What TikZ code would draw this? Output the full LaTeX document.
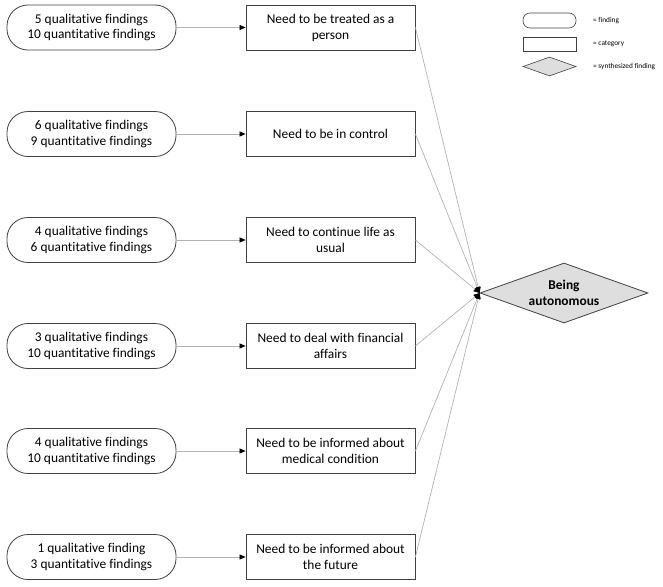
\documentclass[tikz,border=0pt]{standalone}
\usepackage{fontspec}
\setmainfont{Carlito}[Ligatures=NoCommon]
\usetikzlibrary{arrows.meta,shapes.geometric,positioning}
\newcommand{\linecolor}{black!30}
\newcommand{\edgecolor}{black!75}
\newcommand{\boxwidth}{169pt}
\newcommand{\boxheight}{45pt}

\begin{document}
\begin{tikzpicture}[x=1pt,y=-1pt,
  finding/.style={draw=\edgecolor, line width=0.8pt, rounded corners=21pt, minimum width=\boxwidth, minimum height=\boxheight, inner sep=0pt, align=center, font=\fontsize{13.4}{16}\selectfont},
  category/.style={draw=\edgecolor, line width=0.8pt, minimum width=\boxwidth, minimum height=\boxheight, inner sep=0pt, align=center, font=\fontsize{13.4}{16}\selectfont},
  synth/.style={diamond, draw=\edgecolor, line width=0.8pt, fill=black!13, minimum width=168pt, minimum height=60pt, inner sep=0pt, aspect=2.8, align=center, font=\fontsize{13.4}{16}\selectfont\bfseries},
  link/.style={draw=\linecolor, line width=0.7pt, -{Triangle[length=6pt,width=5pt,color=black]}},
  legendtext/.style={anchor=west, inner sep=0pt, font=\fontsize{7.3}{9}\selectfont}
]
\useasboundingbox (0,0) rectangle (663,586);
% findings
\node[finding] (f1) at (91.5,27.5) {5 qualitative findings\\10 quantitative findings};
\node[finding] (f2) at (91.5,134) {6 qualitative findings\\9 quantitative findings};
\node[finding] (f3) at (91.5,240) {4 qualitative findings\\6 quantitative findings};
\node[finding] (f4) at (91.5,346) {3 qualitative findings\\10 quantitative findings};
\node[finding] (f5) at (91.5,451) {4 qualitative findings\\10 quantitative findings};
\node[finding] (f6) at (91.5,557) {1 qualitative finding\\3 quantitative findings};
% categories
\node[category] (c1) at (330.5,27.5) {Need to be treated as a\\person};
\node[category] (c2) at (330.5,134) {Need to be in control};
\node[category] (c3) at (330.5,240) {Need to continue life as\\usual};
\node[category] (c4) at (330.5,346) {Need to deal with financial\\affairs};
\node[category] (c5) at (330.5,451) {Need to be informed about\\medical condition};
\node[category] (c6) at (330.5,557) {Need to be informed about\\the future};
% synthesized finding
\node[synth] (auto) at (564,293) {Being\\autonomous};
% links
\draw[link] (f1) -- (c1);
\draw[link] (f2) -- (c2);
\draw[link] (f3) -- (c3);
\draw[link] (f4) -- (c4);
\draw[link] (f5) -- (c5);
\draw[link] (f6) -- (c6);
\draw[link] (c1.east) -- (auto.west);
\draw[link] (c2.east) -- (auto.west);
\draw[link] (c3.east) -- (auto.west);
\draw[link] (c4.east) -- (auto.west);
\draw[link] (c5.east) -- (auto.west);
\draw[link] (c6.east) -- (auto.west);
% legend
\node[draw=\edgecolor, line width=0.6pt, rounded corners=7pt, minimum width=53pt, minimum height=15pt, inner sep=0pt] (lf) at (549.5,20.5) {};
\node[draw=\edgecolor, line width=0.6pt, minimum width=53pt, minimum height=14pt, inner sep=0pt] (lc) at (549.5,44) {};
\node[diamond, draw=\edgecolor, line width=0.6pt, fill=black!13, minimum width=53pt, minimum height=19pt, inner sep=0pt, aspect=2.8] (ls) at (549.5,66.5) {};
\node[legendtext] (lft) at (593,21) {= finding};
\node[legendtext] (lct) at (593,44) {= category};
\node[legendtext] (lst) at (593,67) {= synthesized finding};
\end{tikzpicture}
\end{document}
